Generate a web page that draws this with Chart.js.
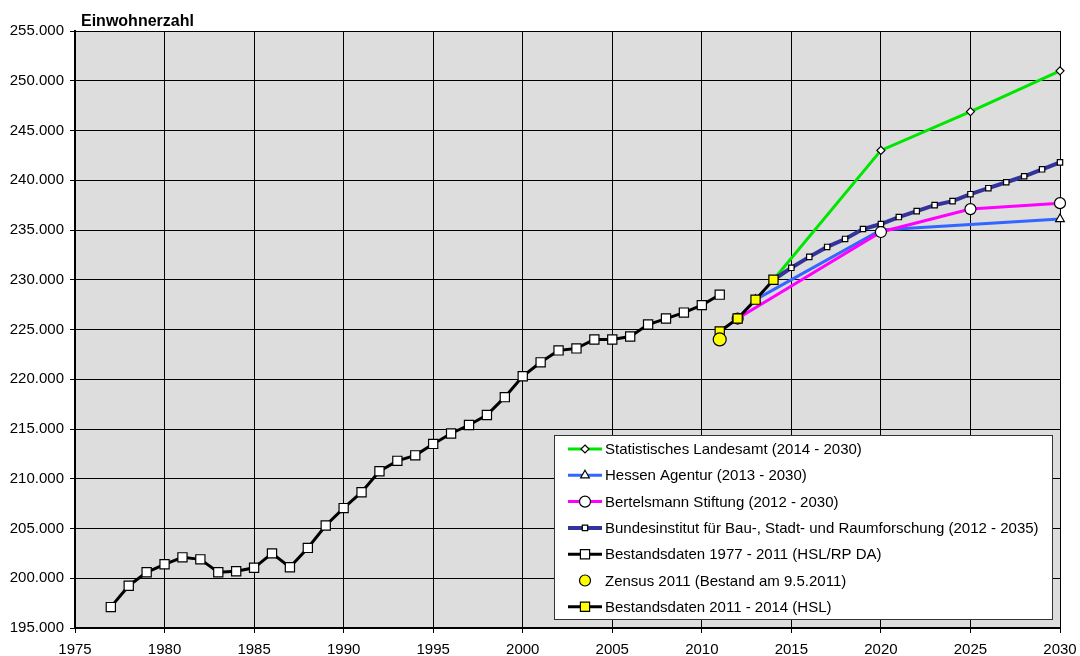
<!DOCTYPE html>
<html lang="de">
<head>
<meta charset="utf-8">
<title>Einwohnerzahl</title>
<script src="https://cdn.jsdelivr.net/npm/chart.js"></script>
<style>
  html,body{margin:0;padding:0;background:#fff;}
</style>
</head>
<body>
<canvas id="chart" width="1080" height="656"></canvas>
<script>
// ===== Daten =====
const bestandJahre = [1977,1978,1979,1980,1981,1982,1983,1984,1985,1986,1987,1988,1989,1990,1991,1992,1993,1994,
  1995,1996,1997,1998,1999,2000,2001,2002,2003,2004,2005,2006,2007,2008,2009,2010,2011];
const bestandWerte = [197100,199250,200600,201400,202100,201900,200600,200700,201050,202500,201100,203050,205300,
  207050,208650,210750,211800,212350,213500,214550,215400,216400,218200,220300,221700,222900,223100,224000,224000,
  224300,225500,226100,226700,227450,228500];

const bestandNeuJahre = [2011,2012,2013,2014];
const bestandNeuWerte = [224800,226100,228000,230000];

const zensusJahre = [2011];
const zensusWerte = [224000];

const landesamtJahre = [2014,2020,2025,2030];
const landesamtWerte = [230000,243000,246900,251000];

const hessenJahre = [2013,2020,2030];
const hessenWerte = [228000,235000,236100];

const bertelsmannJahre = [2012,2020,2025,2030];
const bertelsmannWerte = [226100,234800,237100,237700];

const bbsrJahre = [2014,2015,2016,2017,2018,2019,2020,2021,2022,2023,2024,2025,2026,2027,2028,2029,2030];
const bbsrWerte = [230000,231200,232300,233300,234100,235100,235600,236300,236900,237500,237900,238600,239200,
  239800,240400,241100,241800];

const xTicks = [1975,1980,1985,1990,1995,2000,2005,2010,2015,2020,2025,2030];

const pts = (jahre, werte) => jahre.map((j,i)=>({x:j, y:werte[i]}));

const SCHRIFT = 'Arial, "Liberation Sans", sans-serif';
Chart.defaults.font.family = SCHRIFT;
Chart.defaults.font.size = 15;
Chart.defaults.color = '#000';

// Punktsymbol für die Legende
function drawMarker(ctx, style, x, y, r, fill, stroke, bw){
  ctx.save();
  ctx.beginPath();
  if(style==='circle'){
    ctx.arc(x,y,r,0,Math.PI*2);
  }else if(style==='rect'){
    const s = Math.SQRT1_2*r;
    ctx.rect(x-s,y-s,2*s,2*s);
  }else if(style==='rectRot'){
    ctx.moveTo(x,y-r); ctx.lineTo(x+r,y); ctx.lineTo(x,y+r); ctx.lineTo(x-r,y); ctx.closePath();
  }else if(style==='triangle'){
    ctx.moveTo(x,y-r); ctx.lineTo(x+r*0.866,y+r*0.5); ctx.lineTo(x-r*0.866,y+r*0.5); ctx.closePath();
  }
  ctx.fillStyle=fill; ctx.fill();
  ctx.lineWidth=bw; ctx.strokeStyle=stroke; ctx.stroke();
  ctx.restore();
}

const hintergrund = {
  id:'hintergrund',
  beforeDraw(chart){
    const {ctx, chartArea:a} = chart;
    ctx.save();
    ctx.fillStyle='#dddddd';
    ctx.fillRect(a.left,a.top,a.right-a.left,a.bottom-a.top);
    ctx.restore();
  },
  afterDraw(chart){
    const {ctx, chartArea:a} = chart;
    ctx.save();
    // Achsentitel
    ctx.font='bold 16px '+SCHRIFT;
    ctx.fillStyle='#000';
    ctx.textBaseline='alphabetic';
    ctx.fillText('Einwohnerzahl', a.left+6, 26);

    // Legende im Diagramm
    const w=498, h=184;
    const x0=a.right-8-w, y0=a.bottom-9-h;
    ctx.fillStyle='#fff';
    ctx.fillRect(x0,y0,w,h);
    ctx.strokeStyle='#333'; ctx.lineWidth=1;
    ctx.strokeRect(x0+0.5,y0+0.5,w,h);
    ctx.font='15px '+SCHRIFT;
    ctx.textBaseline='middle';
    chart.data.datasets.forEach((ds,i)=>{
      const y=y0+14+i*26.3;
      if(ds.showLine!==false){
        ctx.beginPath();
        ctx.moveTo(x0+14,y); ctx.lineTo(x0+48,y);
        ctx.strokeStyle=ds.borderColor; ctx.lineWidth=ds.borderWidth;
        ctx.stroke();
      }
      drawMarker(ctx, ds.pointStyle, x0+31, y, ds.legendRadius, ds.pointBackgroundColor, ds.pointBorderColor, ds.pointBorderWidth);
      ctx.fillStyle='#000';
      ctx.fillText(ds.label, x0+51, y+1);
    });
    ctx.restore();
  }
};

const linie = (label, jahre, werte, farbe, breite, stil, radius, fuellung, order, legendRadius) => ({
  label, data: pts(jahre, werte), borderColor: farbe, borderWidth: breite,
  pointStyle: stil, pointRadius: radius, pointBackgroundColor: fuellung,
  pointBorderColor: '#000', pointBorderWidth: 1.2, tension: 0, clip: false, order,
  legendRadius
});

const datasets = [
  linie('Statistisches Landesamt (2014 - 2030)', landesamtJahre, landesamtWerte, '#00e600', 3, 'rectRot', 4, '#fff', 7, 4),
  linie('Hessen Agentur (2013 - 2030)', hessenJahre, hessenWerte, '#3366ff', 3, 'triangle', 5, '#fff', 6, 5),
  linie('Bertelsmann Stiftung (2012 - 2030)', bertelsmannJahre, bertelsmannWerte, '#ff00ff', 3, 'circle', 5.5, '#fff', 5, 5.5),
  linie('Bundesinstitut für Bau-, Stadt- und Raumforschung (2012 - 2035)', bbsrJahre, bbsrWerte, '#333399', 4, 'rect', 3.8, '#fff', 4, 3.8),
  linie('Bestandsdaten 1977 - 2011 (HSL/RP DA)', bestandJahre, bestandWerte, '#000', 3, 'rect', 6.5, '#fff', 3, 6.5),
  Object.assign(linie('Zensus 2011 (Bestand am 9.5.2011)', zensusJahre, zensusWerte, '#000', 0, 'circle', 6.5, '#ffff00', 1, 5.5), {showLine:false}),
  linie('Bestandsdaten 2011 - 2014 (HSL)', bestandNeuJahre, bestandNeuWerte, '#000', 3, 'rect', 6.5, '#ffff00', 2, 6.5)
];

new Chart(document.getElementById('chart'), {
  type:'line',
  data:{ datasets },
  options:{
    responsive:false,
    animation:false,
    layout:{ padding:{ top:31, right:20, left:0, bottom:0 } },
    plugins:{ legend:{display:false}, tooltip:{enabled:false} },
    scales:{
      x:{
        type:'linear', min:1975, max:2030,
        afterBuildTicks(scale){ scale.ticks = xTicks.map(v=>({value:v})); },
        afterFit(scale){ scale.height = 28; scale.paddingLeft = 0; scale.paddingRight = 0; },
        grid:{ color:'#000', lineWidth:1, tickLength:5, tickColor:'#000' },
        border:{ color:'#000', width:2 },
        ticks:{ callback:v=>String(v), maxRotation:0, padding:8, color:'#000' }
      },
      y:{
        min:195000, max:255000,
        ticks:{ stepSize:5000, callback:v=>`${Math.round(v/1000)}.000`, padding:6, color:'#000' },
        afterFit(scale){ scale.width = 75; scale.paddingTop = 0; scale.paddingBottom = 0; },
        grid:{ color:'#000', lineWidth:1, tickLength:5, tickColor:'#000' },
        border:{ color:'#000', width:2 }
      }
    }
  },
  plugins:[hintergrund]
});
</script>
</body>
</html>
